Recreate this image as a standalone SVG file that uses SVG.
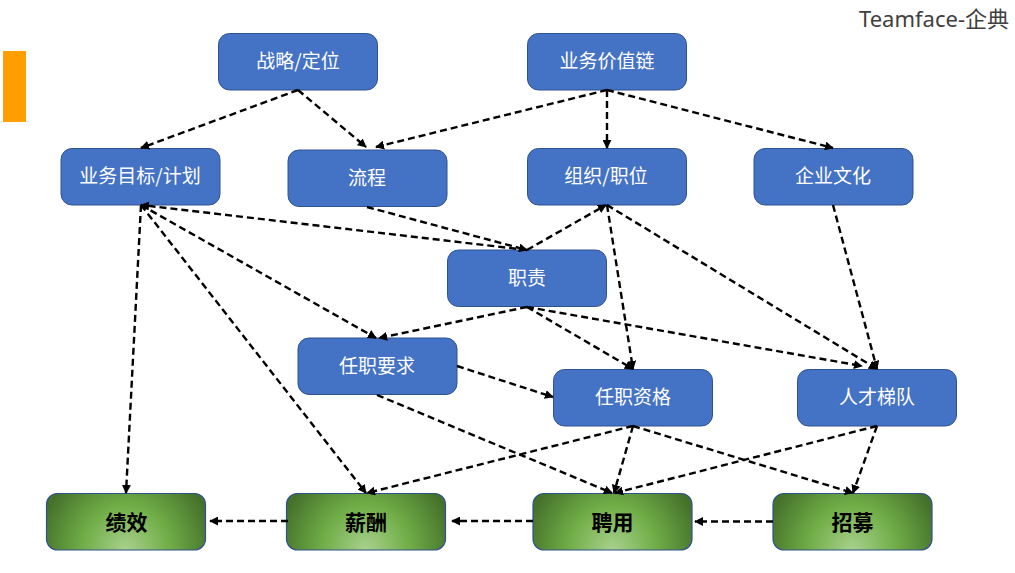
<svg xmlns="http://www.w3.org/2000/svg" width="1015" height="573" viewBox="0 0 1015 573">
<style>
.n{fill:#4472c4;stroke:#2f528f;stroke-width:1}
.g{fill:url(#gr);stroke:#2f528f;stroke-width:1.2}
.t{font-family:"Noto Sans CJK SC","Noto Sans",sans-serif;font-size:19px;fill:#fff;text-anchor:middle}
.b{font-family:"Noto Sans CJK SC","Noto Sans",sans-serif;font-size:21px;font-weight:700;fill:#000;text-anchor:middle}
#connectors line{stroke:#000;stroke-width:2.4;stroke-dasharray:7 4;fill:none;marker-end:url(#ah)}
</style>
<defs>
<radialGradient id="gr" cx="0" cy="0" r="1" gradientTransform="translate(0.5 1) scale(0.55 1.6)">
<stop offset="0" stop-color="#a9d18e"/>
<stop offset="0.5" stop-color="#70ad47"/>
<stop offset="1" stop-color="#45722b"/>
</radialGradient>
<marker id="ah" viewBox="0 0 10 10" refX="9" refY="5" markerWidth="9" markerHeight="9" markerUnits="userSpaceOnUse" orient="auto"><path d="M0 0L10 5L0 10Z" fill="#000"/></marker>
</defs>
<rect id="accent" x="3" y="51" width="23" height="71" fill="#ff9e00"/>
<text id="brand" x="859" y="27" font-family="'Noto Sans','Noto Sans CJK SC',sans-serif" font-size="22" fill="#404040">Teamface-企典</text>
<g id="n1"><rect class="n" x="218.500" y="33.500" width="159" height="56.500" rx="11"/><text class="t" x="298" y="68">战略/定位</text></g>
<g id="n2"><rect class="n" x="527.500" y="33.500" width="159" height="56.500" rx="11"/><text class="t" x="607" y="68">业务价值链</text></g>
<g id="n3"><rect class="n" x="61" y="148.500" width="159" height="56.500" rx="11"/><text class="t" x="140" y="183">业务目标/计划</text></g>
<g id="n4"><rect class="n" x="288" y="150" width="159" height="56.500" rx="11"/><text class="t" x="367" y="185">流程</text></g>
<g id="n5"><rect class="n" x="527.500" y="148.500" width="159" height="56.500" rx="11"/><text class="t" x="606" y="183">组织/职位</text></g>
<g id="n6"><rect class="n" x="754" y="148.500" width="159" height="56.500" rx="11"/><text class="t" x="833" y="183">企业文化</text></g>
<g id="n7"><rect class="n" x="447.500" y="250" width="159" height="56.500" rx="11"/><text class="t" x="527" y="285">职责</text></g>
<g id="n8"><rect class="n" x="298" y="338" width="159" height="56.500" rx="11"/><text class="t" x="377" y="373">任职要求</text></g>
<g id="n9"><rect class="n" x="553.500" y="369.500" width="159" height="56.500" rx="11"/><text class="t" x="633" y="404">任职资格</text></g>
<g id="n10"><rect class="n" x="797.500" y="369.500" width="159" height="56.500" rx="11"/><text class="t" x="877" y="404">人才梯队</text></g>
<g id="n11"><rect class="g" x="46.500" y="493.500" width="159" height="56.500" rx="11"/><text class="b" x="126.500" y="530">绩效</text></g>
<g id="n12"><rect class="g" x="286.500" y="493.500" width="159" height="56.500" rx="11"/><text class="b" x="366" y="530">薪酬</text></g>
<g id="n13"><rect class="g" x="533" y="493.500" width="159" height="56.500" rx="11"/><text class="b" x="612.500" y="530">聘用</text></g>
<g id="n14"><rect class="g" x="773" y="493.500" width="159" height="56.500" rx="11"/><text class="b" x="852.500" y="530">招募</text></g>
<g id="connectors">
<line x1="298" y1="90" x2="141" y2="148"/>
<line x1="298" y1="90" x2="366" y2="147"/>
<line x1="607" y1="90" x2="376" y2="147"/>
<line x1="607" y1="90" x2="607" y2="148"/>
<line x1="607" y1="90" x2="833" y2="148"/>
<line x1="527" y1="250" x2="141" y2="205"/>
<line x1="367" y1="207" x2="527" y2="250"/>
<line x1="527" y1="250" x2="606" y2="205"/>
<line x1="141" y1="205" x2="376" y2="338"/>
<line x1="141" y1="205" x2="366" y2="493"/>
<line x1="141" y1="205" x2="126" y2="493"/>
<line x1="527" y1="307" x2="379" y2="338"/>
<line x1="527" y1="307" x2="633" y2="369"/>
<line x1="527" y1="307" x2="862" y2="366"/>
<line x1="607" y1="205" x2="633" y2="369"/>
<line x1="607" y1="205" x2="877" y2="369"/>
<line x1="833" y1="205" x2="877" y2="369"/>
<line x1="457" y1="366" x2="553" y2="397"/>
<line x1="377" y1="395" x2="612" y2="493"/>
<line x1="633" y1="426" x2="367" y2="493"/>
<line x1="633" y1="426" x2="614" y2="493"/>
<line x1="633" y1="426" x2="853" y2="493"/>
<line x1="877" y1="426" x2="853" y2="493"/>
<line x1="877" y1="426" x2="615" y2="493"/>
<line x1="773" y1="521.500" x2="695" y2="521.500"/>
<line x1="533" y1="521" x2="452" y2="521"/>
<line x1="288" y1="521" x2="210" y2="521"/>
</g>
</svg>
